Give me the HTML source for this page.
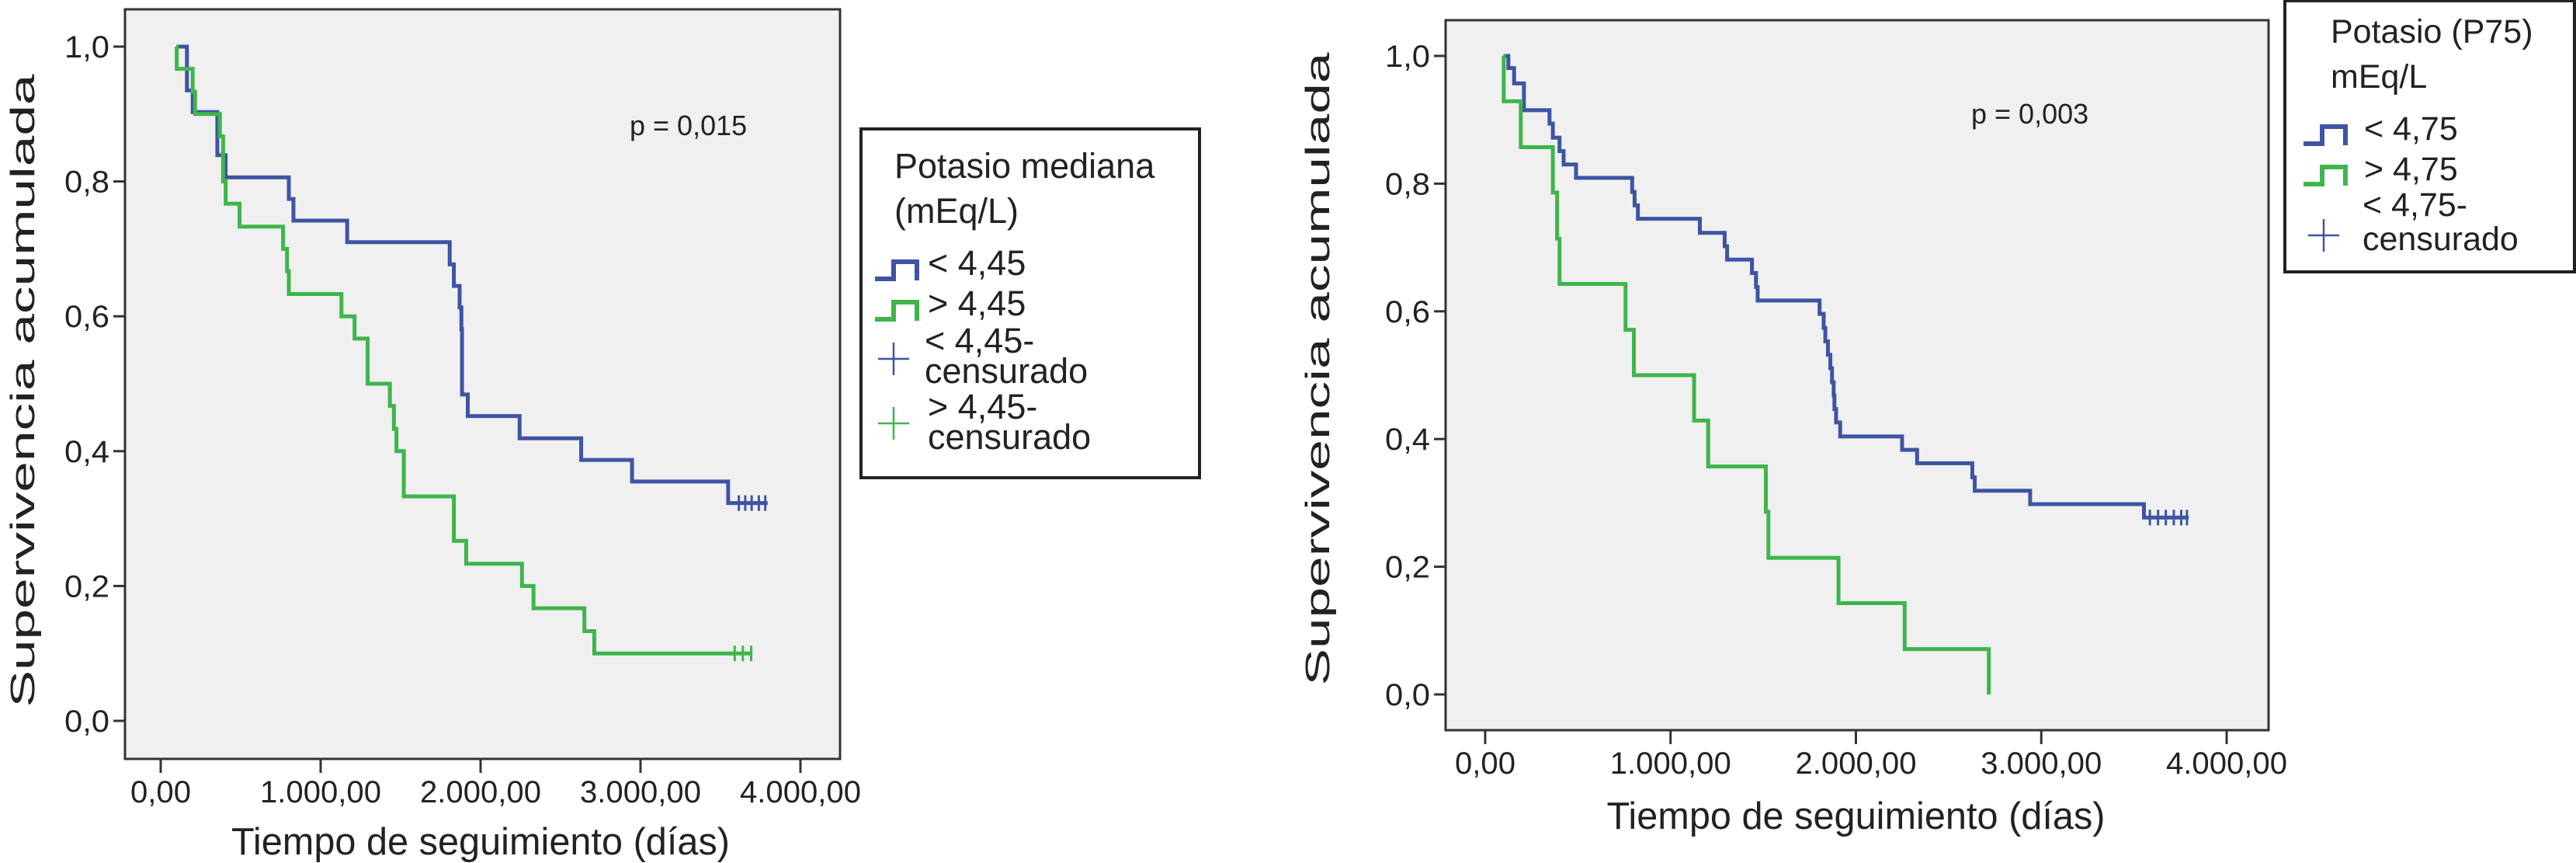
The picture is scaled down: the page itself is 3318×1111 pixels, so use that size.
<!DOCTYPE html>
<html><head><meta charset="utf-8"><style>
html,body{margin:0;padding:0;background:#fff}
svg{display:block;font-family:"Liberation Sans",Arial,sans-serif}
</style></head><body>
<svg id="s" width="3318" height="1111" viewBox="0 0 3318 1111"></svg>
<script>
// ---- Shared axis data ----
const xTicks=[0,1000,2000,3000,4000];
const xTickLabels=["0,00","1.000,00","2.000,00","3.000,00","4.000,00"];
const yTicks=[0,0.2,0.4,0.6,0.8,1.0];
const yTickLabels=["0,0","0,2","0,4","0,6","0,8","1,0"];
// ---- Left chart data ----
const leftBlueT=[98,164,200,354,406,801,830,1166,1807,1833,1869,1880,1884,1920,2244,2629,2947,3548];
const leftBlueS=[1.0,0.935,0.903,0.839,0.806,0.774,0.742,0.71,0.677,0.645,0.613,0.581,0.484,0.452,0.419,0.387,0.355,0.323];
const leftBlueEnd=3795;
const leftBlueCens=[3615,3655,3695,3740,3780];
const leftGreenT=[98,100,200,215,370,390,406,493,765,790,801,1130,1212,1294,1433,1458,1474,1520,1833,1910,2259,2331,2649,2711];
const leftGreenS=[1.0,0.967,0.933,0.9,0.867,0.8,0.767,0.733,0.7,0.667,0.633,0.6,0.567,0.5,0.467,0.433,0.4,0.333,0.267,0.233,0.2,0.167,0.133,0.1];
const leftGreenEnd=3700;
const leftGreenCens=[3589,3640,3692];
// ---- Right chart data ----
const rightBlueT=[98,125,156,209,347,365,401,423,490,793,806,824,1158,1292,1305,1439,1461,1470,1804,1826,1835,1849,1862,1871,1880,1884,1893,1915,2249,2330,2628,2641,2940,3554];
const rightBlueS=[1.0,0.981,0.957,0.915,0.894,0.872,0.851,0.83,0.809,0.787,0.766,0.745,0.723,0.702,0.681,0.66,0.638,0.617,0.596,0.574,0.553,0.532,0.511,0.489,0.468,0.447,0.426,0.404,0.383,0.362,0.34,0.319,0.298,0.277];
const rightBlueEnd=3795;
const rightBlueCens=[3586,3630,3672,3715,3755,3786];
const rightGreenT=[98,100,192,365,388,401,757,802,1127,1203,1514,1528,1906,2263,2717];
const rightGreenS=[1.0,0.929,0.857,0.786,0.714,0.643,0.571,0.5,0.429,0.357,0.286,0.214,0.143,0.071,0];
const rightGreenEnd=2717;
const rightGreenCens=[];

const BLUE="#3e54a3",GREEN="#3fb54b";
const svg=document.getElementById('s');
const NS="http://www.w3.org/2000/svg";
function mk(tag,attrs,parent){const e=document.createElementNS(NS,tag);for(const k in attrs)e.setAttribute(k,attrs[k]);(parent||svg).appendChild(e);return e;}
function txt(str,attrs,parent){const e=mk('text',attrs,parent);e.textContent=str;return e;}

function chart(cfg){
  const g=mk('g',{});
  
  
  const X=t=>cfg.x0+(t/4000)*(cfg.x4-cfg.x0);
  const Y=s=>cfg.y0+s*(cfg.y1-cfg.y0);
  const bg=mk('rect',{x:cfg.fl,y:cfg.ft,width:cfg.fr-cfg.fl,height:cfg.fb-cfg.ft,fill:"#f0f0f0",stroke:"#333","stroke-width":3},g);
  
  
  yTicks.forEach((v,i)=>{
    mk('line',{x1:cfg.fl-15,x2:cfg.fl,y1:Y(v),y2:Y(v),stroke:"#333","stroke-width":3},g);
    const t=txt(yTickLabels[i],{x:cfg.fl-20,y:Y(v)+14,"font-size":40,"text-anchor":"end",fill:"#222",textLength:58,lengthAdjust:"spacingAndGlyphs"},g);
    
    
  });
  xTicks.forEach((v,i)=>{
    mk('line',{x1:X(v),x2:X(v),y1:cfg.fb,y2:cfg.fb+18,stroke:"#333","stroke-width":3},g);
    const t=txt(xTickLabels[i],{x:X(v),y:cfg.xlY,"font-size":40,"text-anchor":"middle",fill:"#222",textLength:i==0?78:156,lengthAdjust:"spacingAndGlyphs"},g);
    
    
  });
  const xt=txt("Tiempo de seguimiento (días)",{x:(cfg.x0+cfg.x4)/2,y:cfg.xtY,"font-size":49,"text-anchor":"middle",fill:"#222",textLength:642,lengthAdjust:"spacingAndGlyphs"},g);
  
  
  const yt=txt("Supervivencia acumulada",{x:0,y:0,"font-size":44,"text-anchor":"middle",fill:"#222",textLength:815,lengthAdjust:"spacingAndGlyphs",transform:`translate(${cfg.ytX},${cfg.ytY}) rotate(-90)`},g);
  
  
  const p=txt(cfg.p,{x:cfg.pX,y:cfg.pY,"font-size":36,fill:"#222"},g);
  
  
  cfg.series.forEach(sr=>{
    let d=`M${X(sr.T[0])},${Y(sr.S[0])}`;
    for(let i=1;i<sr.T.length;i++){d+=` H${X(sr.T[i])} V${Y(sr.S[i])}`;}
    d+=` H${X(sr.end)}`;
    const path=mk('path',{d:d,fill:"none",stroke:sr.c,"stroke-width":5},g);
    
    
    const last=sr.S[sr.S.length-1];
    sr.cens.forEach(t=>{
      const c=mk('path',{d:`M${X(t)},${Y(last)-10} V${Y(last)+10}`,stroke:sr.c,"stroke-width":3},g);
      
      
    });
  });
  // legend
  const L=cfg.leg;
  const lg=mk('g',{},g);
  
  
  mk('rect',{x:L.x,y:L.y,width:L.w,height:L.h,fill:"#fff",stroke:"#222","stroke-width":4},lg);
  L.title.forEach((s,i)=>{
    const t=txt(s,{x:L.tx,y:L.ty[i],"font-size":L.fs,fill:"#222"},lg);
    
    
  });
  L.items.forEach(it=>{
    if(it.kind==='line'){
      const ic=mk('path',{d:`M${it.ix},${it.iy+10} H${it.ix+24} V${it.iy-12} H${it.ix+54} V${it.iy+12}`,fill:"none",stroke:it.c,"stroke-width":6},lg);
      
      
    }else{
      const ic=mk('path',{d:`M${it.ix},${it.iy-21} V${it.iy+21} M${it.ix-20},${it.iy} H${it.ix+20}`,stroke:it.c,"stroke-width":2.5},lg);
      
      
    }
    it.lines.forEach((s,j)=>{
      const t=txt(s,{x:it.tx,y:it.by[j],"font-size":L.fs,fill:"#222"},lg);
      
      
    });
  });
}

chart({name:'chart-potasio-mediana',fl:161,fr:1082,ft:12,fb:977,x0:207,x4:1031,y0:928,y1:60,xlY:1033,xtY:1100,ytX:44,ytY:503,p:"p = 0,015",pX:811,pY:174,
  series:[{name:'line-blue-lt-4-45',T:leftBlueT,S:leftBlueS,end:leftBlueEnd,cens:leftBlueCens,c:BLUE},
          {name:'line-green-gt-4-45',T:leftGreenT,S:leftGreenS,end:leftGreenEnd,cens:leftGreenCens,c:GREEN}],
  leg:{x:1109,y:166,w:436,h:449,tx:1152,ty:[229,287],fs:45,
    title:["Potasio mediana","(mEq/L)"],
    items:[{kind:'line',c:BLUE,ix:1127,iy:349,tx:1195,by:[354],lines:["< 4,45"]},
           {kind:'line',c:GREEN,ix:1127,iy:401,tx:1195,by:[406],lines:["> 4,45"]},
           {kind:'plus',c:BLUE,ix:1151,iy:462,tx:1191,by:[454,493],lines:["< 4,45-","censurado"]},
           {kind:'plus',c:GREEN,ix:1151,iy:545,tx:1195,by:[539,578],lines:["> 4,45-","censurado"]}]}});

chart({name:'chart-potasio-p75',fl:1862,fr:2922,ft:26,fb:940,x0:1913,x4:2868,y0:894,y1:72,xlY:996,xtY:1067,ytX:1712,ytY:475,p:"p = 0,003",pX:2539,pY:159,
  series:[{name:'line-blue-lt-4-75',T:rightBlueT,S:rightBlueS,end:rightBlueEnd,cens:rightBlueCens,c:BLUE},
          {name:'line-green-gt-4-75',T:rightGreenT,S:rightGreenS,end:rightGreenEnd,cens:rightGreenCens,c:GREEN}],
  leg:{x:2943,y:1,w:373,h:349,tx:3002,ty:[55,113],fs:43,
    title:["Potasio (P75)","mEq/L"],
    items:[{kind:'line',c:BLUE,ix:2967,iy:175,tx:3045,by:[180],lines:["< 4,75"]},
           {kind:'line',c:GREEN,ix:2967,iy:227,tx:3045,by:[232],lines:["> 4,75"]},
           {kind:'plus',c:BLUE,ix:2993,iy:303,tx:3043,by:[278,322],lines:["< 4,75-","censurado"]}]}});
</script>
</body></html>
